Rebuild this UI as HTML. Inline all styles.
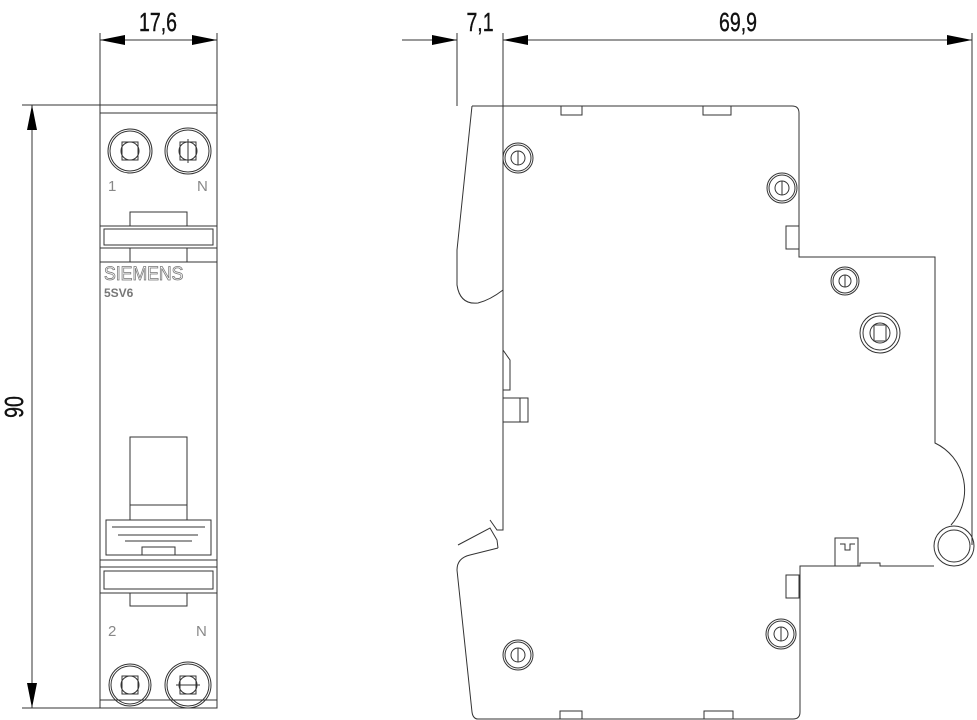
<!DOCTYPE html>
<html><head><meta charset="utf-8"><style>
html,body{margin:0;padding:0;background:#fff;}
svg{display:block;}
text{font-family:"Liberation Sans",sans-serif;}
</style></head><body>
<svg width="977" height="720" viewBox="0 0 977 720" xmlns="http://www.w3.org/2000/svg">
<g fill="none" stroke="#333" stroke-width="1">
<line x1="100" y1="33" x2="100" y2="105"/>
<line x1="217" y1="33" x2="217" y2="105"/>
<line x1="100" y1="40" x2="217" y2="40"/>
<line x1="22" y1="105" x2="100" y2="105"/>
<line x1="22" y1="708" x2="100" y2="708"/>
<line x1="32" y1="105" x2="32" y2="708"/>
<rect x="100" y="105" width="117" height="603"/>
<line x1="100" y1="113" x2="217" y2="113"/>
<line x1="100" y1="262" x2="217" y2="262"/>
<line x1="100" y1="700" x2="217" y2="700"/>
<circle cx="130" cy="151" r="22"/><circle cx="130" cy="151" r="20"/><circle cx="130" cy="151" r="9"/>
<rect x="122" y="142" width="16" height="18"/>
<circle cx="188" cy="151" r="23"/><circle cx="188" cy="151" r="21"/><circle cx="188" cy="151" r="9"/>
<rect x="180" y="142" width="16" height="18"/><line x1="188" y1="139" x2="188" y2="163"/>
<rect x="130" y="212" width="57" height="14"/>
<rect x="100" y="226" width="117" height="22"/>
<rect x="104" y="229" width="109" height="16"/>
<rect x="130" y="248" width="57" height="14"/>
<rect x="130" y="437" width="57" height="83"/>
<line x1="130" y1="505" x2="187" y2="505"/>
<rect x="106" y="520" width="105" height="35"/>
<line x1="112" y1="527" x2="205" y2="527"/>
<line x1="118" y1="535" x2="198" y2="535"/>
<line x1="125" y1="541" x2="192" y2="541"/>
<rect x="142" y="547" width="33" height="8"/>
<line x1="100" y1="560" x2="217" y2="560"/>
<rect x="100" y="567" width="117" height="26"/>
<rect x="104" y="571" width="109" height="18"/>
<rect x="130" y="593" width="57" height="13"/>
<circle cx="130" cy="685" r="21"/><circle cx="130" cy="685" r="19"/><circle cx="130" cy="685" r="9"/>
<rect x="122" y="676" width="16" height="18"/>
<circle cx="188" cy="685" r="23"/><circle cx="188" cy="685" r="21"/><circle cx="188" cy="685" r="9"/>
<rect x="180" y="676" width="16" height="18"/><line x1="176" y1="685" x2="200" y2="685"/>

<line x1="457" y1="33" x2="457" y2="106"/>
<line x1="503" y1="33" x2="503" y2="106"/>
<line x1="972" y1="33" x2="972" y2="545"/>
<line x1="402" y1="40" x2="457" y2="40"/>
<line x1="503" y1="40" x2="972" y2="40"/>
<path d="M472 106 H792 Q799 106 799 113 V257 H935 V443 A52 52 0 0 1 951 525"/>
<circle cx="954" cy="546" r="20"/>
<circle cx="954" cy="546" r="16"/>
<path d="M934 566 H928 M928 566 H880 V563 H860 V566 H800 V712 Q800 719 793 719 H478 Q473 719 472 712 L457 570 Q457 558 470 555 L498 548"/>
<path d="M503 33 V530 H497 L490 520"/>
<path d="M472 106 L457 250 V285 Q460 305 478 303 Q490 300 503 290"/>
<path d="M498 548 L497 540 L490 528 L458 545"/>
<rect x="561" y="106" width="21" height="9"/>
<rect x="703" y="106" width="28" height="9"/>
<rect x="560" y="711" width="22" height="8"/>
<rect x="704" y="711" width="29" height="8"/>
<rect x="786" y="226" width="13" height="23"/>
<rect x="786" y="575" width="13" height="23"/>
<rect x="835" y="538" width="23" height="28"/>
<path d="M840 544 H845 V550 H850 V544 H855"/>
<path d="M503 350 L510 360 V390 H503"/>
<rect x="503" y="398" width="25" height="24"/>
<line x1="520" y1="398" x2="520" y2="422"/>
<g>
<circle cx="518" cy="158" r="15"/><circle cx="518" cy="158" r="13"/><circle cx="518" cy="158" r="7"/><line x1="518" y1="151" x2="518" y2="165"/>
<circle cx="782" cy="188" r="15"/><circle cx="782" cy="188" r="13"/><circle cx="782" cy="188" r="7"/><line x1="782" y1="181" x2="782" y2="195"/>
<circle cx="845" cy="281" r="14"/><circle cx="845" cy="281" r="12"/><circle cx="845" cy="281" r="6"/><line x1="845" y1="275" x2="845" y2="287"/>
<circle cx="880" cy="333" r="20"/><circle cx="880" cy="333" r="17"/><circle cx="880" cy="333" r="10"/><rect x="874" y="325" width="12" height="16"/>
<circle cx="518" cy="655" r="15"/><circle cx="518" cy="655" r="13"/><circle cx="518" cy="655" r="7"/><line x1="518" y1="648" x2="518" y2="662"/>
<circle cx="781" cy="634" r="15"/><circle cx="781" cy="634" r="13"/><circle cx="781" cy="634" r="7"/><line x1="781" y1="627" x2="781" y2="641"/>
</g>
</g>
<g fill="#000">
<polygon points="100,40 125,35 125,45"/>
<polygon points="217,40 192,35 192,45"/>
<polygon points="32,105 27,130 37,130"/>
<polygon points="32,708 27,683 37,683"/>
<polygon points="457,40 432,35 432,45"/>
<polygon points="503,40 528,35 528,45"/>
<polygon points="972,40 947,35 947,45"/>
</g>
<g fill="#111" font-size="26" stroke="#111" stroke-width="0.4">
<text x="158" y="31" text-anchor="middle" transform="translate(158 0) scale(0.75 1) translate(-158 0)">17,6</text>
<text x="480" y="31" text-anchor="middle" transform="translate(480 0) scale(0.75 1) translate(-480 0)">7,1</text>
<text x="738" y="31" text-anchor="middle" transform="translate(738 0) scale(0.75 1) translate(-738 0)">69,9</text>
<text x="0" y="0" text-anchor="middle" transform="translate(23 407) rotate(-90) scale(0.75 1)">90</text>
</g>
<g fill="#888" font-size="15">
<text x="108" y="191">1</text><text x="197" y="191">N</text>
<text x="108" y="636">2</text><text x="196" y="636">N</text>
</g>
<text x="0" y="0" font-size="19" fill="none" stroke="#777" stroke-width="0.8" transform="translate(104 280) scale(0.93 1)">SIEMENS</text>
<text x="104" y="297" font-size="12" font-weight="bold" fill="#777">5SV6</text>
</svg>
</body></html>
